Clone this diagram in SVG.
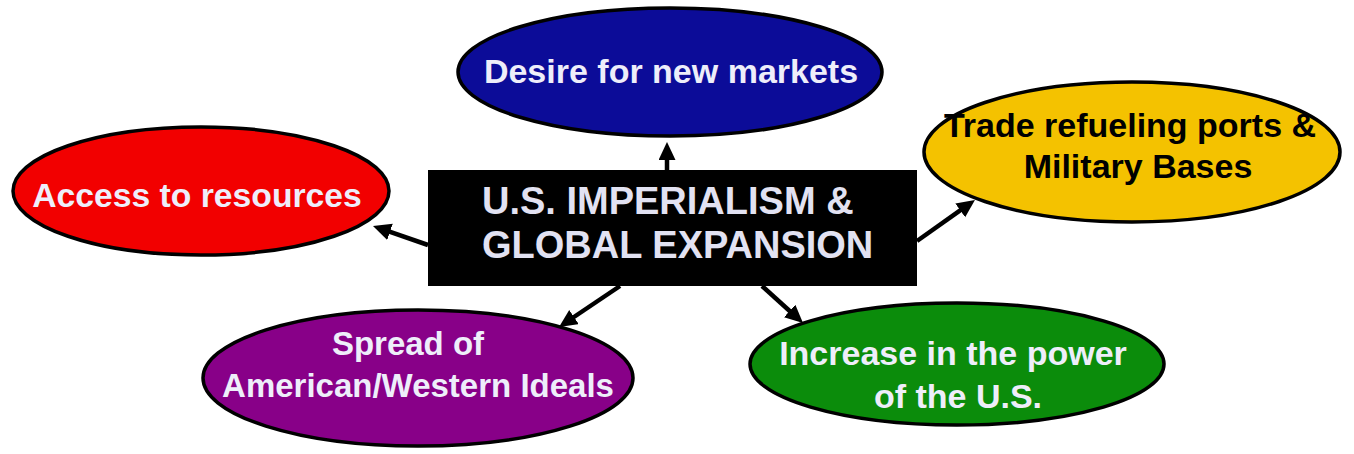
<svg xmlns="http://www.w3.org/2000/svg" width="1354" height="454" viewBox="0 0 1354 454">
<defs>
<style>
.ell{stroke:#000;stroke-width:3.5}
.t{font-family:"Liberation Sans",Arial,sans-serif;font-weight:bold;font-size:34px;fill:#eeeefa;text-anchor:middle}
.dark{fill:#000}
.ctr{font-family:"Liberation Sans",Arial,sans-serif;font-weight:bold;font-size:38px;fill:#e2e2f2}
.conn{stroke:#000;stroke-width:4.5;fill:none;marker-end:url(#ah)}
</style>
<marker id="ah" markerUnits="userSpaceOnUse" markerWidth="20" markerHeight="18" refX="9" refY="8.5" orient="auto">
<path d="M0,0 L18,8.5 L0,17 z" fill="#000"/>
</marker>
</defs>
<rect width="1354" height="454" fill="#fff"/>
<g id="node-center">
<rect x="428" y="170" width="489" height="116" fill="#000"/>
<text class="ctr" x="482" y="214">U.S. IMPERIALISM &amp;</text>
<text class="ctr" x="482" y="258">GLOBAL EXPANSION</text>
</g>
<g id="node-markets">
<ellipse class="ell" cx="670" cy="72" rx="212" ry="64" fill="#0c0c98"/>
<text class="t" x="671" y="83">Desire for new markets</text>
</g>
<g id="node-resources">
<ellipse class="ell" cx="201" cy="191" rx="188" ry="64" fill="#f20000"/>
<text class="t" x="197" y="207" style="font-size:33.7px">Access to resources</text>
</g>
<g id="node-ports">
<ellipse class="ell" cx="1132" cy="152" rx="208" ry="70" fill="#f4c200"/>
<text class="t dark" x="1130" y="137">Trade refueling ports &amp;</text>
<text class="t dark" x="1138" y="178">Military Bases</text>
</g>
<g id="node-ideals">
<ellipse class="ell" cx="418" cy="378" rx="215" ry="68" fill="#880088"/>
<text class="t" x="408" y="355" style="font-size:33px">Spread of</text>
<text class="t" x="418" y="397" style="font-size:33px">American/Western Ideals</text>
</g>
<g id="node-power">
<ellipse class="ell" cx="957" cy="364" rx="207" ry="61" fill="#0b8c0b"/>
<text class="t" x="953" y="365">Increase in the power</text>
<text class="t" x="958" y="408">of the U.S.</text>
</g>
<g id="connectors">
<line class="conn" x1="667" y1="170" x2="667" y2="151"/>
<line class="conn" x1="428" y1="245" x2="381.5" y2="228.9"/>
<line class="conn" x1="917" y1="241" x2="967.6" y2="205.2"/>
<line class="conn" x1="620" y1="286" x2="566.5" y2="322"/>
<line class="conn" x1="762" y1="286" x2="796.3" y2="317"/>
</g>
</svg>
